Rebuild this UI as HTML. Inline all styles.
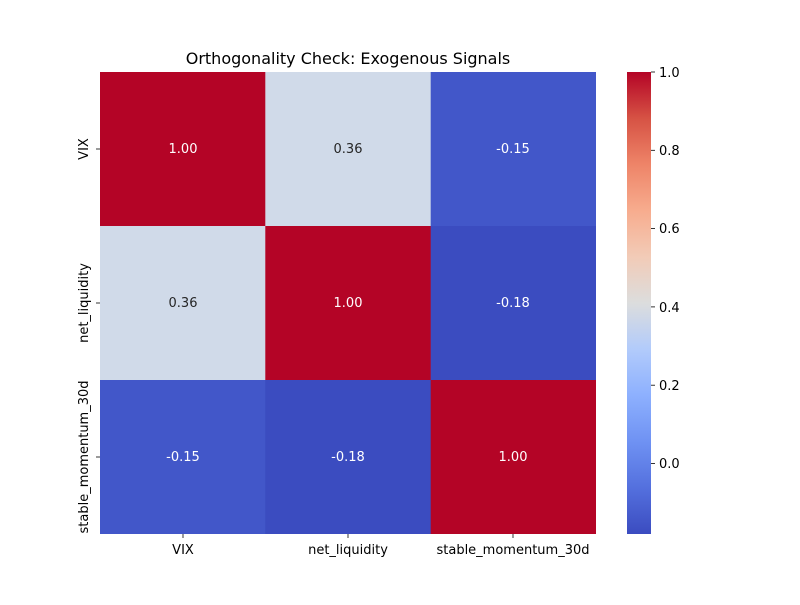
<!DOCTYPE html>
<html><head><style>
body{margin:0;background:#fff;width:800px;height:600px;overflow:hidden;font-family:"Liberation Sans","DejaVu Sans",sans-serif}
</style></head><body>
<svg width="800" height="600" xmlns="http://www.w3.org/2000/svg" font-family="DejaVu Sans, Liberation Sans, sans-serif">
<defs>
<linearGradient id="cw" x1="0" y1="1" x2="0" y2="0">
<stop offset="0" stop-color="#3b4cc0"/>
<stop offset="0.1" stop-color="#5470de"/>
<stop offset="0.2" stop-color="#6f92f3"/>
<stop offset="0.3" stop-color="#8db0fe"/>
<stop offset="0.4" stop-color="#b2cbfb"/>
<stop offset="0.5" stop-color="#dcdddd"/>
<stop offset="0.6" stop-color="#f2cbb7"/>
<stop offset="0.7" stop-color="#f7ac8e"/>
<stop offset="0.8" stop-color="#ee8468"/>
<stop offset="0.9" stop-color="#d65244"/>
<stop offset="1" stop-color="#b40426"/>
</linearGradient>
</defs>
<text x="348" y="64" font-size="16" text-anchor="middle">Orthogonality Check: Exogenous Signals</text>
<g>
<rect x="100" y="72" width="166" height="154" fill="#b40426"/>
<rect x="265.3" y="72" width="166" height="154" fill="#d0dae9"/>
<rect x="430.7" y="72" width="165.3" height="154" fill="#4257c9"/>
<rect x="100" y="226" width="166" height="154" fill="#d0dae9"/>
<rect x="265.3" y="226" width="166" height="154" fill="#b40426"/>
<rect x="430.7" y="226" width="165.3" height="154" fill="#3b4cc0"/>
<rect x="100" y="380" width="166" height="154" fill="#4257c9"/>
<rect x="265.3" y="380" width="166" height="154" fill="#3b4cc0"/>
<rect x="430.7" y="380" width="165.3" height="154" fill="#b40426"/>
</g>
<g font-size="13" text-anchor="middle">
<text x="183" y="153" fill="#fff">1.00</text>
<text x="348" y="153" fill="#262626">0.36</text>
<text x="513" y="153" fill="#fff">-0.15</text>
<text x="183" y="307" fill="#262626">0.36</text>
<text x="348" y="307" fill="#fff">1.00</text>
<text x="513" y="307" fill="#fff">-0.18</text>
<text x="183" y="461" fill="#fff">-0.15</text>
<text x="348" y="461" fill="#fff">-0.18</text>
<text x="513" y="461" fill="#fff">1.00</text>
</g>
<g stroke="#000" stroke-width="0.8">
<line x1="183" y1="534" x2="183" y2="538"/><line x1="348" y1="534" x2="348" y2="538"/><line x1="513" y1="534" x2="513" y2="538"/>
<line x1="96" y1="149" x2="100" y2="149"/><line x1="96" y1="303" x2="100" y2="303"/><line x1="96" y1="457" x2="100" y2="457"/>
</g>
<g font-size="13" text-anchor="middle" fill="#000">
<text x="183" y="554">VIX</text>
<text x="348" y="554">net_liquidity</text>
<text x="513" y="554">stable_momentum_30d</text>
<text transform="translate(88,149) rotate(-90)">VIX</text>
<text transform="translate(88,303) rotate(-90)">net_liquidity</text>
<text transform="translate(88,457) rotate(-90)">stable_momentum_30d</text>
</g>
<rect x="627" y="72" width="24" height="462" fill="url(#cw)"/>
<g stroke="#000" stroke-width="0.8">
<line x1="651" y1="72" x2="655" y2="72"/><line x1="651" y1="150.3" x2="655" y2="150.3"/><line x1="651" y1="228.6" x2="655" y2="228.6"/><line x1="651" y1="306.9" x2="655" y2="306.9"/><line x1="651" y1="385.2" x2="655" y2="385.2"/><line x1="651" y1="463.5" x2="655" y2="463.5"/>
</g>
<g font-size="13" fill="#000">
<text x="659" y="77">1.0</text><text x="659" y="155">0.8</text><text x="659" y="233">0.6</text><text x="659" y="312">0.4</text><text x="659" y="390">0.2</text><text x="659" y="468">0.0</text>
</g>
</svg>
</body></html>
